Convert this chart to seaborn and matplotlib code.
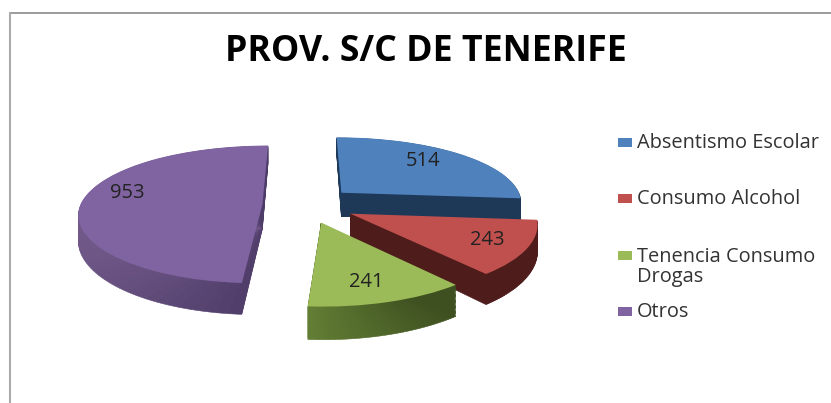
import numpy as np
import matplotlib
matplotlib.use("Agg")
import matplotlib.pyplot as plt
from matplotlib.colors import to_rgb
from matplotlib.lines import Line2D
from matplotlib.patches import Rectangle, Wedge
from matplotlib.path import Path
from matplotlib.transforms import Affine2D, Transform
import seaborn as sns

title = "PROV. S/C DE TENERIFE"
categories = ["Absentismo Escolar", "Consumo Alcohol", "Tenencia Consumo\nDrogas", "Otros"]
values = [514, 243, 241, 953]
explode = [0.27, 0.27, 0.26, 0.24]
top_colors = ["#4F81BD", "#C0504D", "#9BBB59", "#8064A2"]
side_start = ["#1E3858", "#4E1D1B", "#3E5020", "#4E3C68"]
side_end = ["#1E3858", "#4E1D1B", "#627D34", "#705888"]
label_px = [(423, 161), (487, 240), (366, 282), (127, 193)]
legend_y_px = [142, 198, 255, 311]
legend_text_y_px = [143, 199, 267, 312]

W, H = 831, 403
sns.set_theme(style="white")
plt.rcParams["font.family"] = ["Open Sans", "DejaVu Sans"]
fig = plt.figure(figsize=(W / 100, H / 100), dpi=100, facecolor="white")
ax_top, ax_bottom = 100, 365
ax = fig.add_axes([0, (H - ax_bottom) / H, 1, (ax_bottom - ax_top) / H])

wedges, _ = ax.pie(values, explode=explode, colors=top_colors, startangle=90,
                   counterclock=False, center=(0, 0), radius=1,
                   wedgeprops=dict(linewidth=0))

# perspective: the front of the pie is drawn larger than the back
A, B, K = 69.0, 10.0, 0.13
def forward(y):
    y = np.minimum(np.asarray(y, dtype=float), A / (2 * B) - 1e-3)
    return A * y - B * y ** 2
def inverse(f):
    f = np.asarray(f, dtype=float)
    return (A - np.sqrt(np.maximum(A ** 2 - 4 * B * f, 0))) / (2 * B)

class Widen(Transform):
    input_dims = output_dims = 2
    has_inverse = False
    def transform_non_affine(self, xy):
        xy = np.asarray(xy, dtype=float)
        return np.column_stack([xy[:, 0] * (1 - K * xy[:, 1]), xy[:, 1]])
    def transform_path_non_affine(self, path):
        return Path(self.transform_non_affine(path.vertices), path.codes)

ax.set_aspect("auto")
ax.set_yscale("function", functions=(forward, inverse))
CX, CY = 306, 205
ax.set_xlim(-CX / 182, (W - CX) / 182)
ax.set_ylim(inverse(CY - ax_bottom), inverse(CY - ax_top))
ax.axis("off")

widen = Widen()
for i, w in enumerate(wedges):
    w.set_transform(widen + ax.transData)
    w.set_zorder(10 * (i + 1) + 5)

# extruded side walls: stacks of wedges shaded along the arc
depth = 0.34
n_layers, n_sub = 26, 48
for i, w in enumerate(wedges):
    a, b = np.array(to_rgb(side_start[i])), np.array(to_rgb(side_end[i]))
    edges = np.linspace(w.theta1, w.theta2, n_sub + 1)
    mid = 0.5 * (edges[:-1] + edges[1:])
    xs = np.cos(np.radians(mid))
    frac = (xs.max() - xs) / max(xs.max() - xs.min(), 1e-6)
    for k in range(1, n_layers + 1):
        shift = Affine2D().translate(0, -depth * k / n_layers)
        for s in range(n_sub):
            col = a + (b - a) * frac[s]
            ax.add_patch(Wedge(w.center, w.r, edges[s], edges[s + 1],
                               facecolor=col, edgecolor=col, linewidth=0.4,
                               transform=widen + shift + ax.transData,
                               zorder=10 * (i + 1) + 1))

for v, (px, py) in zip(values, label_px):
    fig.text(px / W, 1 - py / H, str(v), ha="center", va="center",
             fontsize=14.5, color="#222222")

fig.text(426 / W, 1 - 61 / H, title, ha="center", va="baseline", fontsize=25.7,
         fontweight="bold", color="black")

for lab, col, y, ty in zip(categories, top_colors, legend_y_px, legend_text_y_px):
    fig.add_artist(Rectangle((618 / W, 1 - (y + 4.5) / H), 14 / W, 9 / H,
                             transform=fig.transFigure, facecolor=col, edgecolor="none"))
    fig.text(637 / W, 1 - ty / H, lab, ha="left", va="center",
             fontsize=14.4, color="#333333", linespacing=1.05)

fig.add_artist(Line2D([10 / W, 1], [1 - 13 / H, 1 - 13 / H], color="#8A8A8A", lw=1.2))
fig.add_artist(Line2D([10 / W, 10 / W], [1 - 13 / H, 0], color="#ABABAB", lw=1.5))

fig.savefig("out.png", dpi=100, facecolor="white")
